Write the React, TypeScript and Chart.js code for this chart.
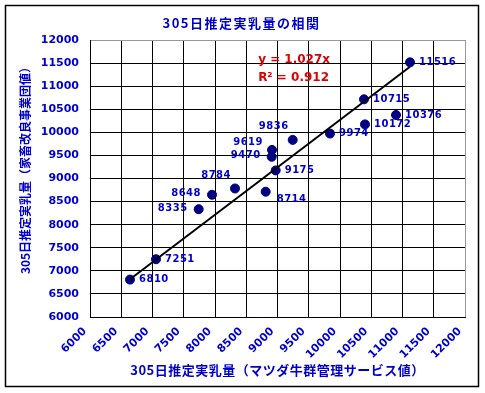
import React, { useEffect, useRef } from 'react';
import { Chart, registerables } from 'chart.js';

Chart.register(...registerables);

// ---- data ----
const xValues = [6640, 7056, 7739, 7952, 8320, 8811, 8971, 8907, 8912, 9243, 9840, 10400, 10384, 10896, 11120];
const yValues = [6810, 7251, 8335, 8648, 8784, 8714, 9175, 9470, 9619, 9836, 9974, 10172, 10715, 10376, 11516];
const pointLabels = ['6810', '7251', '8335', '8648', '8784', '8714', '9175', '9470', '9619', '9836', '9974', '10172', '10715', '10376', '11516'];
const labelPlacement = ['right', 'right', 'left', 'left', 'above', 'belowright', 'right', 'left', 'upleft', 'above', 'right', 'right', 'right', 'right', 'right'];
const slope = 1.027;
const rSquared = 0.912;
const axisMin = 6000;
const axisMax = 12000;
const axisStep = 500;
const titleText = '305日推定実乳量の相関';
const xTitleText = '305日推定実乳量（マツダ牛群管理サービス値）';
const yTitleText = '305日推定実乳量（家畜改良事業団値）';
const equationLines = [`y = ${slope}x`, `R² = ${rSquared}`];
const equationAnchor = { x: 8690, y: [11560, 11180] };

const BLUE = '#0000CC';
const NAVY = '#000080';
const RED = '#DD0000';
const CJK = '"Noto Sans CJK JP", sans-serif';

const decorPlugin = {
  id: 'decor',
  beforeDraw(chart: any) {
    const ctx = chart.ctx;
    ctx.save();
    ctx.fillStyle = '#ffffff';
    ctx.fillRect(0, 0, chart.width, chart.height);
    ctx.strokeStyle = '#000000';
    ctx.lineWidth = 1.5;
    ctx.strokeRect(5.5, 5.5, 473, 381);
    ctx.restore();
  },
  afterDraw(chart: any) {
    const ctx = chart.ctx;
    const area = chart.chartArea;
    const xs = chart.scales.x;
    const ys = chart.scales.y;
    ctx.save();
    // title
    ctx.fillStyle = BLUE;
    ctx.textBaseline = 'middle';
    ctx.textAlign = 'center';
    (ctx as any).letterSpacing = '1.5px';
    ctx.font = `bold 13px ${CJK}`;
    ctx.fillText(titleText, chart.width / 2 - 1, 23);
    // x title
    (ctx as any).letterSpacing = '0.5px';
    ctx.font = `bold 13px ${CJK}`;
    ctx.fillText(xTitleText, (area.left + area.right) / 2, 370);
    // y title
    ctx.save();
    ctx.translate(25, (area.top + area.bottom) / 2 - 11);
    ctx.rotate(-Math.PI / 2);
    (ctx as any).letterSpacing = '0px';
    ctx.font = `bold 12px ${CJK}`;
    ctx.fillText(yTitleText, 0, 0);
    ctx.restore();
    // point labels
    (ctx as any).letterSpacing = '0.5px';
    ctx.font = 'bold 10px "DejaVu Sans", sans-serif';
    ctx.fillStyle = BLUE;
    const meta = chart.getDatasetMeta(1);
    meta.data.forEach((el: any, i: number) => {
      const p = labelPlacement[i];
      let x = el.x, y = el.y;
      let align: CanvasTextAlign = 'left';
      if (p === 'right') { x += 9; }
      else if (p === 'left') { x -= 11; y -= 1; align = 'right'; }
      else if (p === 'upleft') { x -= 9; y -= 8; align = 'right'; }
      else if (p === 'above') { x -= 4; y -= 13; align = 'right'; }
      else if (p === 'belowright') { x += 11; y += 8; }
      ctx.textAlign = align;
      ctx.fillText(pointLabels[i], x, y);
    });
    // equation
    (ctx as any).letterSpacing = '0px';
    ctx.fillStyle = RED;
    ctx.textAlign = 'left';
    ctx.font = 'bold 12px "DejaVu Sans", sans-serif';
    equationLines.forEach((t, i) => {
      ctx.fillText(t, xs.getPixelForValue(equationAnchor.x), ys.getPixelForValue(equationAnchor.y[i]));
    });
    ctx.restore();
  },
};

export default function App() {
  const ref = useRef<HTMLCanvasElement>(null);
  useEffect(() => {
    document.body.style.margin = '0';
    const points = xValues.map((x, i) => ({ x, y: yValues[i] }));
    const minX = Math.min(...xValues);
    const maxX = Math.max(...xValues);
    const trend = [
      { x: minX, y: slope * minX },
      { x: maxX, y: slope * maxX },
    ];
    const gridColor = (c: any) => (c.tick && c.tick.value === axisMax ? '#999999' : '#000000');
    const tickFont = { family: '"DejaVu Sans", sans-serif', size: 11, weight: 'bold' as const };
    const plain = (v: any) => String(v);
    const chart = new Chart(ref.current as HTMLCanvasElement, {
      type: 'scatter',
      data: {
        datasets: [
          {
            type: 'line',
            data: trend,
            borderColor: '#000000',
            borderWidth: 2,
            pointRadius: 0,
            fill: false,
            order: 0,
          } as any,
          {
            data: points,
            backgroundColor: NAVY,
            borderColor: NAVY,
            pointRadius: 4.5,
            order: 1,
          },
        ],
      },
      options: {
        responsive: false,
        animation: false,
        devicePixelRatio: 1,
        layout: { padding: { top: 40, right: 20, left: 0, bottom: 0 } },
        plugins: { legend: { display: false }, tooltip: { enabled: false } },
        scales: {
          x: {
            type: 'linear',
            min: axisMin,
            max: axisMax,
            ticks: {
              stepSize: axisStep,
              minRotation: 45,
              maxRotation: 45,
              autoSkip: false,
              color: BLUE,
              font: tickFont,
              padding: 8,
              labelOffset: -5,
              callback: plain,
            },
            grid: { color: gridColor, drawTicks: false, lineWidth: 1 },
            border: { color: '#000000', width: 1 },
            afterFit: (s: any) => { s.height = 76; },
          },
          y: {
            type: 'linear',
            min: axisMin,
            max: axisMax,
            ticks: {
              stepSize: axisStep,
              autoSkip: false,
              color: BLUE,
              font: tickFont,
              padding: 11,
              callback: plain,
            },
            grid: { color: gridColor, drawTicks: false, lineWidth: 1 },
            border: { color: '#000000', width: 1 },
            afterFit: (s: any) => { s.width = 90; },
          },
        },
      },
      plugins: [decorPlugin],
    });
    return () => chart.destroy();
  }, []);
  return (
    <div style={{ width: 485, height: 393 }}>
      <canvas ref={ref} width={485} height={393} style={{ display: 'block' }} />
    </div>
  );
}
